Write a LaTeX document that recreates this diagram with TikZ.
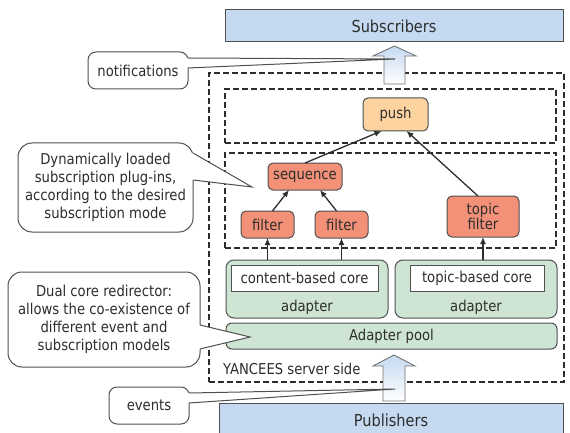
\documentclass[tikz,border=0pt]{standalone}
\usepackage{fontspec}
\setmainfont{DejaVu Sans}[FakeStretch=0.88]
\usetikzlibrary{arrows.meta,calc}
\definecolor{boxblue}{RGB}{197,217,240}
\definecolor{pushor}{RGB}{253,211,160}
\definecolor{salmon}{RGB}{242,145,120}
\definecolor{mint}{RGB}{205,229,210}
\definecolor{edge}{RGB}{80,80,80}
\definecolor{ink}{RGB}{45,45,45}
\begin{document}
\begin{tikzpicture}[x=1pt,y=-1pt,
  font=\fontsize{15}{18}\selectfont, text=ink,
  every node/.style={inner sep=0pt, outer sep=0pt},
  bigbox/.style={draw=edge, fill=boxblue, line width=1pt, font=\fontsize{16.5}{18}\selectfont},
  zone/.style={draw=ink, dash pattern=on 6pt off 3pt, line width=1.2pt},
  plug/.style={draw=edge, fill=salmon, rounded corners=5pt, line width=1pt},
  pushbox/.style={draw=edge, fill=pushor, rounded corners=5pt, line width=1pt},
  adbox/.style={draw=edge, fill=mint, rounded corners=8pt, line width=1pt},
  corebox/.style={draw=edge, fill=white, line width=1pt},
  conn/.style={draw=ink, line width=1.3pt, -{Latex[length=7pt,width=6pt]}},
  blockarrow/.style={draw=edge!80, line width=0.9pt, top color=boxblue, bottom color=white},
  callout/.style={draw=edge, fill=white, line width=1pt, align=center},
  callline/.style={draw=edge, line width=1pt},
]
\useasboundingbox (0,0) rectangle (570,433);

% top and bottom boxes
\node[bigbox, minimum width=338, minimum height=32] (subs) at (394,26) {Subscribers};
\node[bigbox, minimum width=344, minimum height=34] (pubs) at (391,420) {Publishers};

% zones
\node[zone, minimum width=355, minimum height=309] (server) at (386.5,227.5) {};
\node[zone, minimum width=331, minimum height=54] (zpush) at (390.5,116) {};
\node[zone, minimum width=331, minimum height=95] (zplug) at (390.5,200.5) {};
\node[anchor=west] (srvlab) at (223,369) {YANCEES server side};

% plug-ins
\node[pushbox, minimum width=65, minimum height=33] (push) at (395.5,114.5) {push};
\node[plug, minimum width=74, minimum height=27] (seq) at (305,176.5) {sequence};
\node[plug, minimum width=53, minimum height=27] (f1) at (267.5,224.5) {filter};
\node[plug, minimum width=53, minimum height=27] (f2) at (341.5,224.5) {filter};
\node[plug, minimum width=72, minimum height=41, align=center,
      font=\fontsize{15}{15.5}\selectfont] (tf) at (483,216.5) {topic\\filter};

% adapters
\node[adbox, minimum width=162, minimum height=58] (ad1) at (307,289) {};
\node[adbox, minimum width=162, minimum height=58] (ad2) at (476,289) {};
\node[corebox, minimum width=147, minimum height=26] (core1) at (304.5,278) {content-based core};
\node[corebox, minimum width=134, minimum height=26] (core2) at (477,278) {topic-based core};
\node (ad1lab) at (307,307) {adapter};
\node (ad2lab) at (476,307) {adapter};
\node[adbox, rounded corners=6pt, minimum width=331, minimum height=26] (pool) at (391.5,336) {Adapter pool};

% connectors
\draw[conn] (f1.south |- ad1.north) -- (f1.south);
\draw[conn] (f2.south |- ad1.north) -- (f2.south);
\draw[conn] (tf.south |- ad2.north) -- (tf.south);
\draw[conn] ($(f1.north)+(5,0)$) -- ($(seq.south)+(-16,0)$);
\draw[conn] ($(f2.north)+(-5,0)$) -- ($(seq.south)+(15,0)$);
\draw[conn] (seq.north) -- ($(push.south)+(-14,0)$);
\draw[conn] ($(tf.north)+(-5,0)$) -- ($(push.south)+(11,0)$);

% block arrows
\shadedraw[blockarrow] (394.5,46) -- (416,56) -- (405,56) -- (405,84) -- (384,84) -- (384,56) -- (373,56) -- cycle;
\shadedraw[blockarrow] (394,355) -- (415,366) -- (405,366) -- (405,401) -- (383,401) -- (383,366) -- (373,366) -- cycle;

% callouts
\node[callout, rounded corners=8pt, minimum width=100, minimum height=37] (notif) at (138,70.5) {notifications};
\coordinate (notiftip) at (395,59);
\fill[white] ($(notif.north east)+(-1,6)$) -- (notiftip) -- ($(notif.north east)+(-1,16)$) -- cycle;
\draw[callline] ($(notif.north east)+(0,6)$) -- (notiftip) -- ($(notif.north east)+(0,16)$);

\node[callout, rounded corners=14pt, minimum width=175, minimum height=89] (dyn) at (105.5,187.5)
  {Dynamically loaded\\subscription plug-ins,\\according to the desired\\subscription mode};
\coordinate (dyntip) at (252,187);
\fill[white] ($(dyn.north east)+(-1,10)$) -- (dyntip) -- ($(dyn.north east)+(-1,37)$) -- cycle;
\draw[callline] ($(dyn.north east)+(0,10)$) -- (dyntip) -- ($(dyn.north east)+(0,37)$);

\node[callout, rounded corners=14pt, minimum width=192, minimum height=95] (dual) at (104,319.5)
  {Dual core redirector:\\allows the co-existence of\\different event and\\subscription models};
\coordinate (dualtip) at (250,337);
\fill[white] ($(dual.north east)+(-1,53)$) -- (dualtip) -- ($(dual.north east)+(-1,77)$) -- cycle;
\draw[callline] ($(dual.north east)+(0,53)$) -- (dualtip) -- ($(dual.north east)+(0,77)$);

\node[callout, rounded corners=8pt, minimum width=80, minimum height=37] (events) at (149,405.5) {events};
\coordinate (eventstip) at (395,389);
\fill[white] ($(events.north east)+(-1,6)$) -- (eventstip) -- ($(events.north east)+(-1,16)$) -- cycle;
\draw[callline] ($(events.north east)+(0,6)$) -- (eventstip) -- ($(events.north east)+(0,16)$);
\end{tikzpicture}
\end{document}
